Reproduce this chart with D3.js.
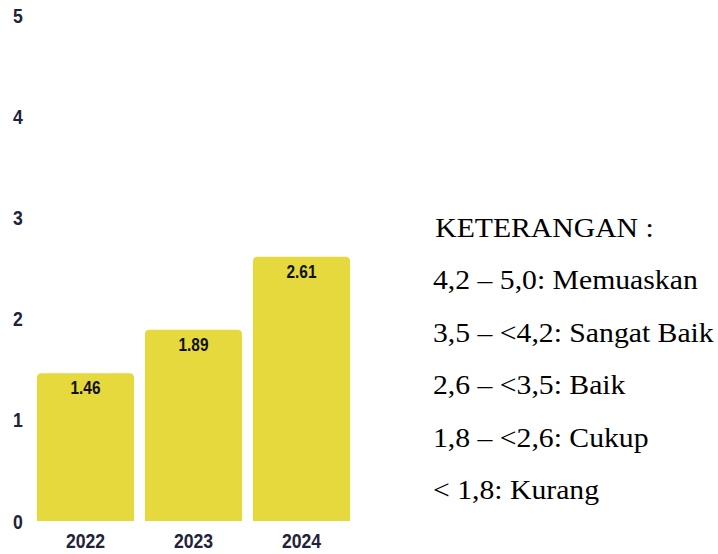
<!DOCTYPE html>
<html>
<head>
<meta charset="utf-8">
<script src="https://cdn.jsdelivr.net/npm/d3@7"></script>
<style>
  html, body { margin: 0; padding: 0; background: #fff; }
  svg { display: block; }
</style>
</head>
<body>
<svg id="chart" width="718" height="554"></svg>
<script>
const years = ["2022", "2023", "2024"];
const scores = [1.46, 1.89, 2.61];
const yTicks = [0, 1, 2, 3, 4, 5];
const legendTitle = "KETERANGAN :";
const legendLines = [
  "4,2 – 5,0: Memuaskan",
  "3,5 – <4,2: Sangat Baik",
  "2,6 – <3,5: Baik",
  "1,8 – <2,6: Cukup",
  "< 1,8: Kurang"
];

const BAR_COLOR = "#e5d93d";
const AXIS_COLOR = "#22223a";
const CONDENSED = "'Liberation Sans', Arial, sans-serif";

const svg = d3.select("#chart");

const x = d3.scaleBand()
  .domain(years)
  .range([31.5, 355.5])
  .paddingInner(0.1)
  .paddingOuter(0.05);

const y = d3.scaleLinear()
  .domain([0, 5])
  .range([521, 15]);

// narrow bold text is faked by squeezing Liberation Sans
function squeezed(px, py, k) {
  return `translate(${px},${py}) scale(${k},1)`;
}

// y tick labels only, no axis line
svg.append("g")
  .selectAll("text")
  .data(yTicks)
  .enter().append("text")
  .attr("transform", d => squeezed(18, y(d) + 7.5, 0.84))
  .attr("text-anchor", "middle")
  .style("font-family", CONDENSED)
  .style("font-weight", "bold")
  .style("font-size", "21px")
  .style("fill", AXIS_COLOR)
  .text(d => d);

// bars with rounded top corners
function barPath(d, i) {
  const x0 = x(years[i]), w = x.bandwidth();
  const top = y(d), bot = y(0), r = 5;
  return `M${x0},${bot}V${top + r}Q${x0},${top} ${x0 + r},${top}` +
         `H${x0 + w - r}Q${x0 + w},${top} ${x0 + w},${top + r}V${bot}Z`;
}

svg.append("g")
  .selectAll("path")
  .data(scores)
  .enter().append("path")
  .attr("d", barPath)
  .attr("fill", BAR_COLOR);

// value labels
svg.append("g")
  .selectAll("text")
  .data(scores)
  .enter().append("text")
  .attr("transform", (d, i) => squeezed(x(years[i]) + x.bandwidth() / 2, y(d) + 21, 0.88))
  .attr("text-anchor", "middle")
  .style("font-family", CONDENSED)
  .style("font-weight", "bold")
  .style("font-size", "17.5px")
  .style("fill", "#111")
  .text(d => d.toFixed(2));

// x labels
svg.append("g")
  .selectAll("text")
  .data(years)
  .enter().append("text")
  .attr("transform", d => squeezed(x(d) + x.bandwidth() / 2, 548, 0.84))
  .attr("text-anchor", "middle")
  .style("font-family", CONDENSED)
  .style("font-weight", "bold")
  .style("font-size", "21px")
  .style("fill", AXIS_COLOR)
  .text(d => d);

// legend
const legend = svg.append("g")
  .attr("transform", "translate(433,0) scale(1.1,1)");

legend.append("text")
  .attr("x", 2)
  .attr("y", 237)
  .style("font-family", "'Liberation Serif', 'Times New Roman', serif")
  .style("font-size", "27px")
  .style("fill", "#000")
  .text(legendTitle);

legend.selectAll("text.line")
  .data(legendLines)
  .enter().append("text")
  .attr("class", "line")
  .attr("x", 0)
  .attr("y", (d, i) => 289.5 + i * 52.5)
  .style("font-family", "'Liberation Serif', 'Times New Roman', serif")
  .style("font-size", "27px")
  .style("fill", "#000")
  .text(d => d);
</script>
</body>
</html>
